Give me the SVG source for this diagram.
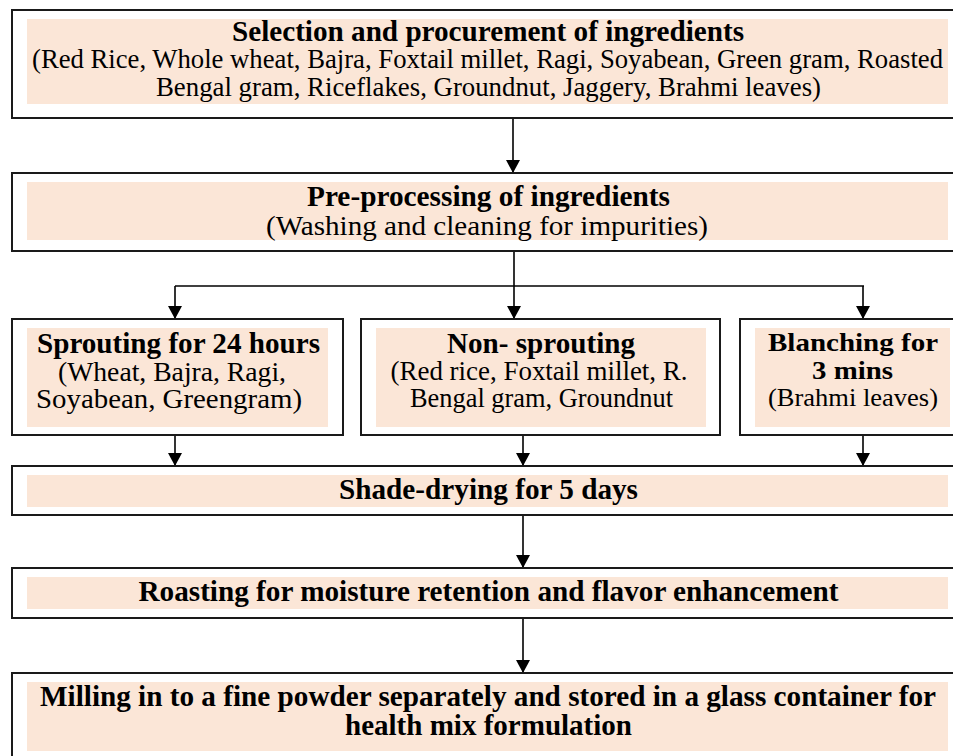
<svg xmlns="http://www.w3.org/2000/svg" width="953" height="756" viewBox="0 0 953 756">
<style>
.box{fill:#fff;stroke:#1a1a1a;stroke-width:2}
.shade{fill:#FBE6D7;stroke:none}
.b{font-family:"Liberation Serif","Times New Roman",serif;font-weight:bold;font-size:29px;fill:#000;text-anchor:middle}
.r{font-family:"Liberation Serif","Times New Roman",serif;font-size:27px;fill:#000;text-anchor:middle}
.s{font-size:25px}
.c{fill:none;stroke:#000;stroke-width:1.6}
</style>
<defs>
<marker id="ad" markerUnits="userSpaceOnUse" markerWidth="14" markerHeight="14" refX="13" refY="7" orient="auto" viewBox="0 0 14 14">
<path d="M0,0 L13,7 L0,14 Z" fill="#000"/>
</marker>
</defs>
<g id="connectors">
<line class="c" x1="513" y1="118" x2="513" y2="173" marker-end="url(#ad)"/>
<polyline class="c" points="514,251 514,286"/>
<polyline class="c" points="175,286 864,286"/>
<line class="c" x1="175" y1="286" x2="175" y2="319" marker-end="url(#ad)"/>
<line class="c" x1="514" y1="286" x2="514" y2="319" marker-end="url(#ad)"/>
<line class="c" x1="863" y1="286" x2="863" y2="319" marker-end="url(#ad)"/>
<line class="c" x1="175" y1="435" x2="175" y2="466" marker-end="url(#ad)"/>
<line class="c" x1="523" y1="435" x2="523" y2="466" marker-end="url(#ad)"/>
<line class="c" x1="863" y1="435" x2="863" y2="466" marker-end="url(#ad)"/>
<line class="c" x1="523" y1="515" x2="523" y2="568" marker-end="url(#ad)"/>
<line class="c" x1="523" y1="618" x2="523" y2="673" marker-end="url(#ad)"/>
</g>
<g id="n1">
<rect class="box" x="12" y="10" width="960" height="108"/>
<rect class="shade" x="27" y="19" width="921" height="85"/>
<text class="b" x="488" y="41" textLength="512" lengthAdjust="spacingAndGlyphs">Selection and procurement of ingredients</text>
<text class="r" x="487.5" y="68" textLength="911" lengthAdjust="spacingAndGlyphs">(Red Rice, Whole wheat, Bajra, Foxtail millet, Ragi, Soyabean, Green gram, Roasted</text>
<text class="r" x="488.5" y="96" textLength="665" lengthAdjust="spacingAndGlyphs">Bengal gram, Riceflakes, Groundnut, Jaggery, Brahmi leaves)</text>
</g>
<g id="n2">
<rect class="box" x="12" y="173" width="960" height="78"/>
<rect class="shade" x="27" y="182" width="921" height="58"/>
<text class="b" x="488.5" y="206" textLength="363" lengthAdjust="spacingAndGlyphs">Pre-processing of ingredients</text>
<text class="r" x="487" y="235" textLength="442" lengthAdjust="spacingAndGlyphs">(Washing and cleaning for impurities)</text>
</g>
<g id="n3">
<rect class="box" x="12" y="319" width="331" height="116"/>
<rect class="shade" x="27" y="328" width="301" height="99"/>
<text class="b" x="178.5" y="353" textLength="283" lengthAdjust="spacingAndGlyphs">Sprouting for 24 hours</text>
<text class="r" x="172" y="381" textLength="228" lengthAdjust="spacingAndGlyphs">(Wheat, Bajra, Ragi,</text>
<text class="r" x="169" y="408" textLength="266" lengthAdjust="spacingAndGlyphs">Soyabean, Greengram)</text>
</g>
<g id="n4">
<rect class="box" x="361" y="319" width="359" height="116"/>
<rect class="shade" x="376" y="328" width="330" height="99"/>
<text class="b" x="541" y="353" textLength="188" lengthAdjust="spacingAndGlyphs">Non- sprouting</text>
<text class="r" x="539" y="380" textLength="297" lengthAdjust="spacingAndGlyphs">(Red rice, Foxtail millet, R.</text>
<text class="r" x="541.5" y="407" textLength="263" lengthAdjust="spacingAndGlyphs">Bengal gram, Groundnut</text>
</g>
<g id="n5">
<rect class="box" x="740" y="319" width="230" height="116"/>
<rect class="shade" x="755" y="328" width="195" height="99"/>
<text class="b s" x="853" y="351" textLength="170" lengthAdjust="spacingAndGlyphs">Blanching for</text>
<text class="b s" x="852.5" y="379" textLength="81" lengthAdjust="spacingAndGlyphs">3 mins</text>
<text class="r s" x="853" y="406" textLength="170" lengthAdjust="spacingAndGlyphs">(Brahmi leaves)</text>
</g>
<g id="n6">
<rect class="box" x="12" y="466" width="960" height="49"/>
<rect class="shade" x="27" y="475" width="921" height="32"/>
<text class="b" x="488.5" y="499" textLength="299" lengthAdjust="spacingAndGlyphs">Shade-drying for 5 days</text>
</g>
<g id="n7">
<rect class="box" x="12" y="568" width="960" height="50"/>
<rect class="shade" x="27" y="577" width="921" height="32"/>
<text class="b" x="488.5" y="601" textLength="700" lengthAdjust="spacingAndGlyphs">Roasting for moisture retention and flavor enhancement</text>
</g>
<g id="n8">
<rect class="box" x="12" y="673" width="960" height="100"/>
<rect class="shade" x="27" y="682" width="921" height="69"/>
<text class="b" x="488" y="706" textLength="896" lengthAdjust="spacingAndGlyphs">Milling in to a fine powder separately and stored in a glass container for</text>
<text class="b" x="488.5" y="735" textLength="287" lengthAdjust="spacingAndGlyphs">health mix formulation</text>
</g>
</svg>
